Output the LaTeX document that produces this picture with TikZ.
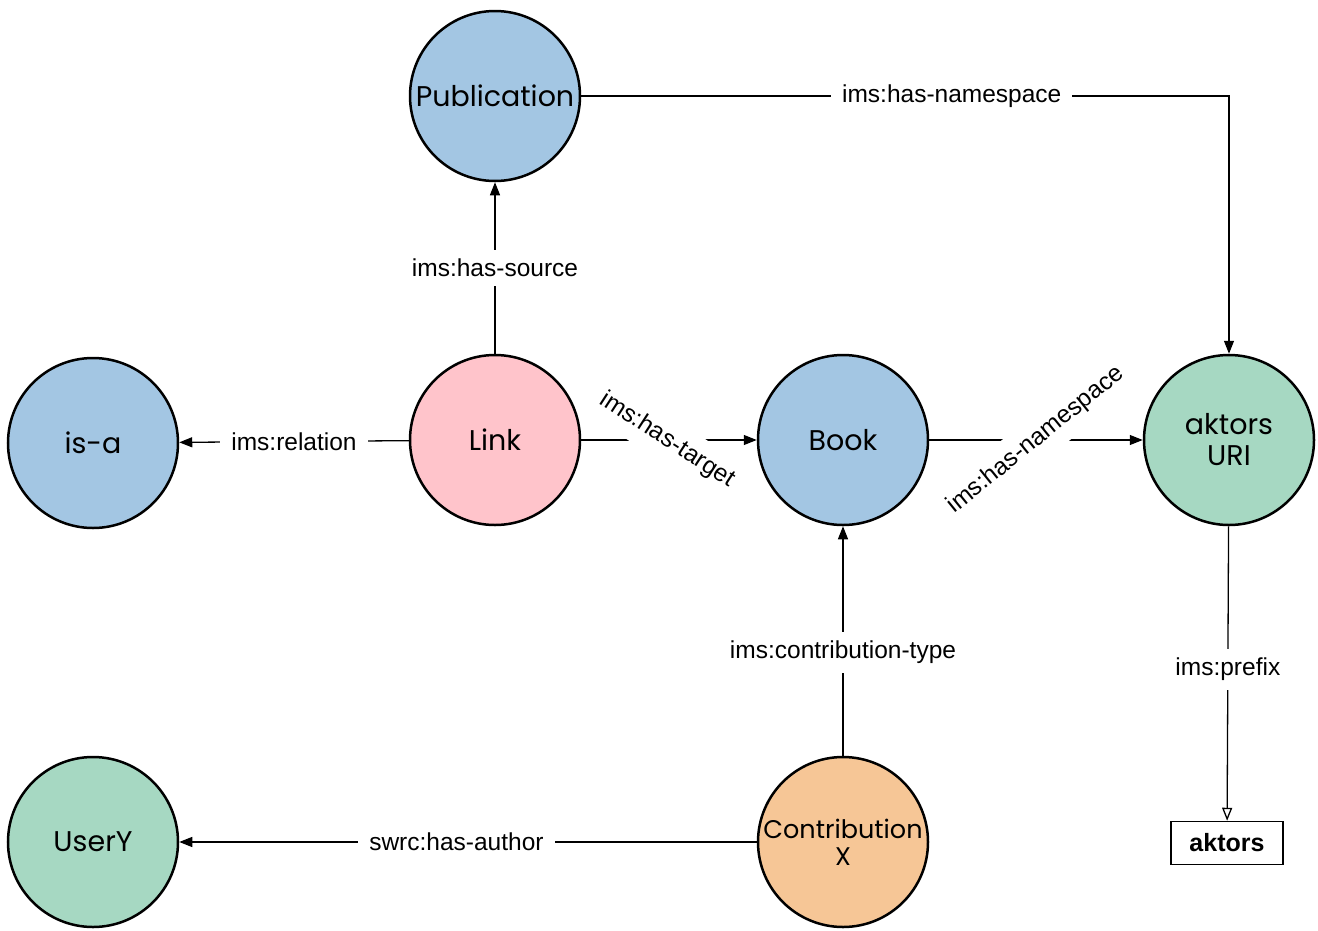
\documentclass[tikz,border=0pt]{standalone}
\usepackage{fontspec}
\setmainfont{Liberation Sans}
\newfontfamily\nodefont{Poppins}
\usetikzlibrary{arrows.meta}
\definecolor{cblue}{RGB}{163,198,227}
\definecolor{cpink}{RGB}{255,196,203}
\definecolor{cgreen}{RGB}{166,216,194}
\definecolor{corange}{RGB}{246,198,150}
\begin{document}
\begin{tikzpicture}[x=1pt,y=-1pt,
 ent/.style={circle, draw, line width=2.5pt, minimum size=170pt, inner sep=0pt,
   font=\nodefont\fontsize{28.5}{29}\selectfont, align=center},
 rel/.style={line width=1.3pt, -{Triangle[length=13pt,width=10pt]}},
 relopen/.style={line width=1.3pt, -{Triangle[open,length=13pt,width=10pt]}},
 lbl/.style={fill=white, font=\fontsize{24.5}{26}\selectfont, inner xsep=11pt, inner ysep=9pt}
]
\useasboundingbox (0,0) rectangle (1318,930);
\node[ent, fill=cblue] (pub) at (495,96) {\makebox[0pt]{Publication}};
\node[ent, fill=cblue] (isa) at (93,443) {is-a};
\node[ent, fill=cpink] (link) at (495,440) {Link};
\node[ent, fill=cblue] (book) at (843,440) {Book};
\node[ent, fill=cgreen] (uri) at (1229,440) {\raisebox{2pt}{aktors}\\[2pt]\raisebox{2pt}{URI}};
\node[ent, fill=cgreen] (usery) at (93,842) {UserY};
\node[ent, fill=corange, font=\nodefont\fontsize{25.5}{27}\selectfont] (contrib) at (843,842) {\makebox[0pt]{Contribution}\\[0pt]X};
\node[draw, line width=1.5pt, minimum width=112pt, minimum height=43pt, inner sep=0pt,
  font=\bfseries\fontsize{25}{27}\selectfont] (akt) at (1227,843) {aktors};

\draw[rel] (pub.east) -| node[lbl, pos=0.286] {ims:has-namespace} (uri.north);
\draw[rel] (link) -- node[lbl, pos=0.5] {ims:has-source} (pub);
\draw[rel] (link) -- node[lbl, pos=0.5] {ims:relation} (isa);
\draw[rel] (link) -- node[lbl, pos=0.49, rotate=-33, inner sep=10pt] {ims:has-target} (book);
\draw[rel] (book) -- node[lbl, pos=0.5, rotate=39, inner sep=10pt] {ims:has-namespace} (uri);
\draw[rel] (contrib) -- node[lbl, pos=0.45] {ims:contribution-type} (book);
\draw[rel] (contrib) -- node[lbl, pos=0.52] {swrc:has-author} (usery);
\draw[relopen] (uri) -- node[lbl, pos=0.485] {ims:prefix} (akt);
\end{tikzpicture}
\end{document}
